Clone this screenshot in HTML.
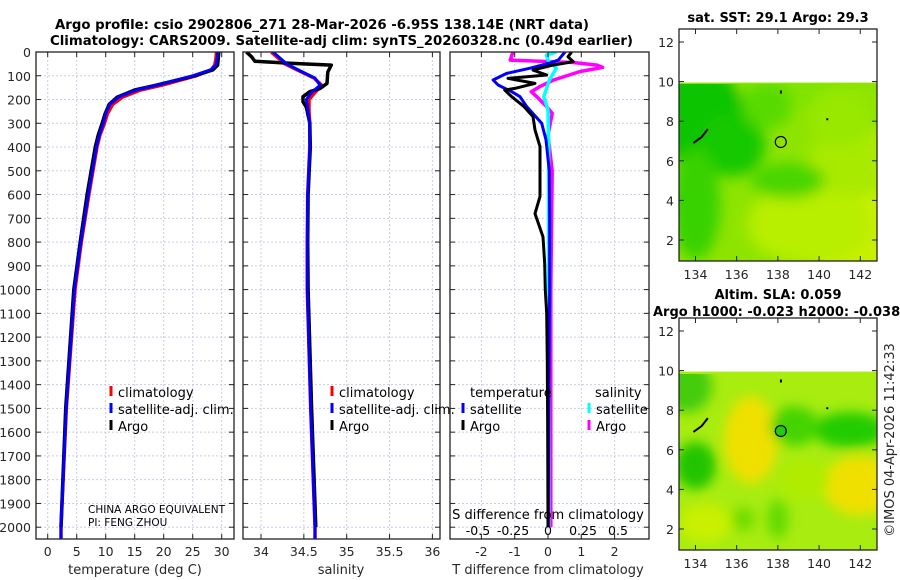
<!DOCTYPE html>
<html><head><meta charset="utf-8">
<style>
html,body{margin:0;padding:0;background:#fff;}
svg{display:block;font-family:"DejaVu Sans","Liberation Sans",sans-serif;}
</style></head>
<body>
<svg id="fig" width="900" height="580" viewBox="0 0 900 580" xmlns="http://www.w3.org/2000/svg">
<defs>
<filter id="blur1" x="-20%" y="-20%" width="140%" height="140%"><feGaussianBlur stdDeviation="7"/></filter>
<filter id="blur2" x="-20%" y="-20%" width="140%" height="140%"><feGaussianBlur stdDeviation="6"/></filter>
<clipPath id="clipP1"><rect x="36" y="52" width="198" height="487"/></clipPath>
<clipPath id="clipP2"><rect x="243" y="52" width="197" height="487"/></clipPath>
<clipPath id="clipP3"><rect x="450" y="52" width="199" height="487"/></clipPath>
<clipPath id="clipM1"><rect x="679" y="84" width="198" height="177"/></clipPath>
<clipPath id="clipM2"><rect x="679" y="374" width="198" height="177"/></clipPath>
</defs>
<text x="55" y="29" textLength="534" lengthAdjust="spacingAndGlyphs" font-size="13" font-weight="bold">Argo profile: csio 2902806_271 28-Mar-2026 -6.95S 138.14E (NRT data)</text>
<text x="50" y="45" textLength="583" lengthAdjust="spacingAndGlyphs" font-size="13" font-weight="bold">Climatology: CARS2009. Satellite-adj clim: synTS_20260328.nc (0.49d earlier)</text>
<g id="g1"></g>
<g id="g2"></g>
<g id="g3"></g>
<g id="m1"></g>
<g id="m2"></g>
<text transform="translate(894,440) rotate(-90)" text-anchor="middle" font-size="13" fill="#262626">©IMOS 04-Apr-2026 11:42:33</text>
</svg>
<script>
// ---- data ----
const depthTicks = [0,100,200,300,400,500,600,700,800,900,1000,1100,1200,1300,1400,1500,1600,1700,1800,1900,2000];
const tTicks = [0,5,10,15,20,25,30];
const sTicks = [34,34.5,35,35.5,36];
const sTickLabels = ["34","34.5","35","35.5","36"];
const dtTicks = [-2,-1,0,1,2];
const dsTicks = [-0.5,-0.25,0,0.25,0.5];
const dsTickLabels = ["-0.5","-0.25","0","0.25","0.5"];

const tDepth = [0,30,55,75,100,140,160,190,220,260,300,350,400,600,800,1000,1500,2000,2050];
const tSat   = [29.3,29.2,29.0,28.1,25.0,18.8,15.3,12.2,10.7,10.0,9.6,8.9,8.4,7.0,5.7,4.6,3.2,2.3,2.3];
const tClim  = [29.1,29.0,28.8,28.2,25.6,19.6,16.0,12.9,11.2,10.3,9.8,9.0,8.5,7.1,5.8,4.7,3.2,2.3,2.3];
const tArgo  = [29.5,29.4,29.3,28.5,25.3,18.6,15.0,12.0,10.6,9.9,9.4,8.7,8.2,6.8,5.6,4.5,3.1,2.3];
const tArgoDepth = [0,30,55,75,100,140,160,190,220,260,300,350,400,600,800,1000,1500,2000];

const sDepth = [0,50,80,110,140,170,200,250,300,400,600,800,1000,1500,2000,2050];
const sSat   = [34.14,34.30,34.46,34.63,34.69,34.59,34.53,34.55,34.57,34.57,34.545,34.54,34.54,34.58,34.63,34.63];
const sClim  = [34.12,34.28,34.45,34.62,34.71,34.63,34.56,34.56,34.57,34.57,34.545,34.54,34.54,34.58,34.63,34.63];
const sArgoDepth = [0,20,39,47,55,84,132,153,167,188,209,233,300,400,600,800,1000,1500,2000];
const sArgo      = [33.83,33.89,33.93,34.34,34.82,34.78,34.77,34.69,34.57,34.49,34.49,34.53,34.57,34.575,34.55,34.545,34.55,34.59,34.64];

const dtDepth = [0,34,46,68,90,118,139,167,188,230,300,370,500,700,1000,1500,2000];
const dtSat   = [0.51,0.31,0.06,-0.54,-1.24,-1.65,-1.5,-1.09,-0.84,-0.64,-0.19,-0.06,0.04,0.05,0.05,0.02,0.01];
const dtArgoDepth = [0,20,41,55,76,97,111,132,153,160,188,230,272,328,398,496,608,680,778,890,1000,1100,1300,1600,2000];
const dtArgo      = [0.71,0.6,0.76,0.15,-0.45,-0.04,-1.2,-0.39,-1.0,-1.3,-1.09,-0.72,-0.45,-0.39,-0.24,-0.24,-0.24,-0.39,-0.15,-0.1,-0.08,-0.04,-0.02,-0.01,0.0];
const dsArgoDepth = [0,34,44,55,65,82,118,146,167,188,230,258,350,500,1000,2000];
const dsArgo      = [-0.25,-0.27,0.18,0.35,0.39,0.23,0.04,-0.06,-0.12,-0.08,-0.01,0.03,0.0,0.03,0.02,0.02];
const dsSatDepth = [0,13,34,68,118,188,244,400,1000,2000];
const dsSat      = [0.06,-0.01,0.0,0.06,0.01,-0.03,0.0,0.005,0.005,0.005];

const latTicks = [2,4,6,8,10,12];
const lonTicks = [134,136,138,140,142];

// ---- helpers ----
const NS = "http://www.w3.org/2000/svg";
function mk(parent, tag, attrs){const e=document.createElementNS(NS,tag);for(const k in attrs)e.setAttribute(k,attrs[k]);parent.appendChild(e);return e;}
const Y0=52, YS=0.2376;
function yD(d){return Y0+d*YS;}
const xT = v => 47.7 + v*5.8;
const xS = v => 261 + (v-34)*85.7;
const xDT = v => 548 + v*33.3;
const xDS = v => 548 + v*140;

function grid(g, x0, x1, xs){
  depthTicks.forEach(d=>{const l=mk(g,'line',{x1:x0,x2:x1,y1:yD(d),y2:yD(d),stroke:'#c8cde8','stroke-width':1,'stroke-dasharray':'2,2'});
    
    });
  xs.forEach(x=>{const l=mk(g,'line',{x1:x,x2:x,y1:Y0,y2:539,stroke:'#c8cde8','stroke-width':1,'stroke-dasharray':'2,2'});
    
    });
}
function frame(g,x0,x1,y0,y1,nm){
  const r=mk(g,'rect',{x:x0,y:y0,width:x1-x0,height:y1-y0,fill:'none',stroke:'#222','stroke-width':1.3});
  
  
}
function yTickMarks(g,x0,x1){
  depthTicks.forEach(d=>{mk(g,'line',{x1:x0,x2:x0+5,y1:yD(d),y2:yD(d),stroke:'#222'});mk(g,'line',{x1:x1-5,x2:x1,y1:yD(d),y2:yD(d),stroke:'#222'});});
}
function xTickMarks(g,xs){xs.forEach(x=>{mk(g,'line',{x1:x,x2:x,y1:539,y2:534,stroke:'#222'});mk(g,'line',{x1:x,x2:x,y1:Y0,y2:Y0+5,stroke:'#222'});});}
function line(g,xs,ds,fx,color,w,nm,clip){
  const pts=xs.map((v,i)=>fx(v).toFixed(1)+','+yD(ds[i]).toFixed(1)).join(' ');
  const p=mk(g,'polyline',{points:pts,fill:'none',stroke:color,'stroke-width':w,'stroke-linejoin':'round','clip-path':'url(#'+clip+')'});
  
  
}
function legend(g,x,y,color,label,nm){
  mk(g,'rect',{x:x-1.5,y:y-11,width:3,height:10,fill:color});
  const t=mk(g,'text',{x:x+7,y:y,'font-size':13});t.textContent=label;
  
  
}
function txt(g,x,y,s,size,anchor,nm,extra){
  const t=mk(g,'text',Object.assign({x:x,y:y,'font-size':size,'text-anchor':anchor,fill:'#262626'},extra||{}));t.textContent=s;
  
  
  return t;
}

// ---- panel 1 ----
const g1=document.getElementById('g1');
grid(g1,36,234,tTicks.map(xT));
line(g1,tClim,tDepth,xT,'#ff0000',3.5,'temperature-climatology-line','clipP1');
line(g1,tArgo,tArgoDepth,xT,'#000000',3.5,'temperature-argo-line','clipP1');
line(g1,tSat,tDepth,xT,'#0000ff',3,'temperature-satellite-line','clipP1');
frame(g1,36,234,Y0,539,'temperature-axes-frame');
yTickMarks(g1,36,234);xTickMarks(g1,tTicks.map(xT));
depthTicks.forEach(d=>txt(g1,31,yD(d)+5,String(d),12.5,'end','depth-tick-label'));
tTicks.forEach(v=>txt(g1,xT(v),556,String(v),12.5,'middle','temperature-tick-label'));
txt(g1,135,574,'temperature (deg C)',13,'middle','temperature-axis-title');
legend(g1,111,397,'#ff0000','climatology','legend-climatology');
legend(g1,111,414,'#0000ff','satellite-adj. clim.','legend-satellite-adj');
legend(g1,111,431,'#000000','Argo','legend-argo');
txt(g1,88,513,'CHINA ARGO EQUIVALENT',10.5,'start','institution-label',{fill:'#000'});
txt(g1,88,526,'PI: FENG ZHOU',10.5,'start','pi-label',{fill:'#000'});

// ---- panel 2 ----
const g2=document.getElementById('g2');
grid(g2,243,440,sTicks.map(xS));
line(g2,sClim,sDepth,xS,'#ff0000',3.5,'salinity-climatology-line','clipP2');
line(g2,sArgo,sArgoDepth,xS,'#000000',3.5,'salinity-argo-line','clipP2');
line(g2,sSat,sDepth,xS,'#0000ff',3,'salinity-satellite-line','clipP2');
frame(g2,243,440,Y0,539,'salinity-axes-frame');
yTickMarks(g2,243,440);xTickMarks(g2,sTicks.map(xS));
sTicks.forEach((v,i)=>txt(g2,xS(v),556,sTickLabels[i],12.5,'middle','salinity-tick-label'));
txt(g2,341,574,'salinity',13,'middle','salinity-axis-title');
legend(g2,332,397,'#ff0000','climatology','legend-climatology-2');
legend(g2,332,414,'#0000ff','satellite-adj. clim.','legend-satellite-adj-2');
legend(g2,332,431,'#000000','Argo','legend-argo-2');

// ---- panel 3 ----
const g3=document.getElementById('g3');
grid(g3,450,649,dtTicks.map(xDT));
line(g3,dsArgo,dsArgoDepth,xDS,'#ff00ff',3.5,'salinity-diff-argo-line','clipP3');
line(g3,dsSat,dsSatDepth,xDS,'#00ffff',3.5,'salinity-diff-satellite-line','clipP3');
line(g3,dtSat,dtDepth,xDT,'#0000ff',3,'temperature-diff-satellite-line','clipP3');
line(g3,dtArgo,dtArgoDepth,xDT,'#000000',3,'temperature-diff-argo-line','clipP3');
frame(g3,450,649,Y0,539,'difference-axes-frame');
yTickMarks(g3,450,649);xTickMarks(g3,dtTicks.map(xDT));
dtTicks.forEach(v=>txt(g3,xDT(v),556,String(v),12.5,'middle','temperature-diff-tick-label'));
txt(g3,548,574,'T difference from climatology',13,'middle','temperature-diff-axis-title');
txt(g3,548,519,'S difference from climatology',13,'middle','salinity-diff-axis-title',{fill:'#000'});
dsTicks.forEach((v,i)=>txt(g3,xDS(v),535,dsTickLabels[i],12.5,'middle','salinity-diff-tick-label',{fill:'#000'}));
txt(g3,470,397,'temperature',13,'start','legend-temperature-heading',{fill:'#000'});
legend(g3,463,414,'#0000ff','satellite','legend-temp-satellite');
legend(g3,463,431,'#000000','Argo','legend-temp-argo');
txt(g3,595,397,'salinity',13,'start','legend-salinity-heading',{fill:'#000'});
legend(g3,589,414,'#00ffff','satellite','legend-sal-satellite');
legend(g3,589,431,'#ff00ff','Argo','legend-sal-argo');

// ---- maps ----
const lonX = lon => 679 + (lon-133.2)*20.6;
function map(g, top, blobs, base, clip, nm){
  const latY = lat => top + 13 + (12-lat)*19.8;
  const yTop = latY(9.95);
  mk(g,'rect',{x:679,y:yTop,width:198,height:(top+232)-yTop,fill:base});
  const bl=mk(g,'g',{'clip-path':'url(#'+clip+')'});
  const inner=mk(bl,'g',{filter:'url(#'+(nm==='sst'?'blur1':'blur2')+')'});
  blobs.forEach(b=>mk(inner,'ellipse',{cx:lonX(b[0]),cy:latY(b[1]),rx:b[2]*20.6,ry:b[3]*19.8,fill:b[4]}));
  mk(g,'polyline',{points:[[133.9,6.9],[134.3,7.2],[134.6,7.6]].map(p=>lonX(p[0])+','+latY(p[1])).join(' '),stroke:'#000','stroke-width':2,fill:'none'});
  mk(g,'rect',{x:lonX(138.1),y:latY(9.55),width:2,height:3,fill:'#000'});
  mk(g,'rect',{x:lonX(140.35),y:latY(8.15),width:2,height:2,fill:'#000'});
  const c=mk(g,'circle',{cx:lonX(138.14),cy:latY(6.95),r:5.5,fill:nm==='sla'?'#22cc11':'none',stroke:'#000','stroke-width':1.2});
  
  
  frame(g,679,877,top,top+232,nm+'-map-frame');
  latTicks.forEach(l=>{mk(g,'line',{x1:679,x2:684,y1:latY(l),y2:latY(l),stroke:'#222'});mk(g,'line',{x1:872,x2:877,y1:latY(l),y2:latY(l),stroke:'#222'});
    txt(g,674,latY(l)+5,String(l),12.5,'end',nm+'-lat-tick-label');});
  lonTicks.forEach(l=>{mk(g,'line',{x1:lonX(l),x2:lonX(l),y1:top+232,y2:top+227,stroke:'#222'});mk(g,'line',{x1:lonX(l),x2:lonX(l),y1:top,y2:top+5,stroke:'#222'});
    txt(g,lonX(l),top+250,String(l),12.5,'middle',nm+'-lon-tick-label');});
}
const sstBlobs=[
 [142.5,2.5,3.5,2.8,'#c8f000'],[139.5,2.8,3,2,'#b8ee00'],[142,6,2.5,1.8,'#a8ea00'],
 [134.2,8.2,2.2,2.6,'#10c400'],[135.8,6.8,1.6,1.6,'#18c800'],[134,3.8,1.2,2.8,'#38d200'],
 [138.5,5,1.8,0.9,'#48d600'],[139,9.6,2.8,1,'#80e400'],[137.5,8.8,1.2,1.2,'#58da00'],[141,8.2,1.5,1.5,'#98e800']
];
map(document.getElementById('m1'),29,sstBlobs,'#8ee400','clipM1','sst');
const slaBlobs=[
 [136.7,6.5,1.3,2.2,'#f0e000'],[142,4.2,1.8,1.5,'#f0e000'],[141.5,7,1.8,0.9,'#22cc00'],
 [138.8,7.2,1.2,1.0,'#44d400'],[134,5.2,1,1.2,'#20c400'],[133.6,9.2,1.2,1.3,'#44cc10'],
 [138,2.5,0.5,1,'#60da00'],[136.3,2.5,0.6,0.6,'#70dc00'],[139.3,4.5,1.2,1,'#b0ec00'],
 [134.5,2.3,1.3,1,'#c8f000']
];
map(document.getElementById('m2'),318,slaBlobs,'#a8ec10','clipM2','sla');
const m1=document.getElementById('m1'), m2=document.getElementById('m2');
txt(m1,778,22,'sat. SST: 29.1 Argo: 29.3',13,'middle','sst-map-title',{'font-weight':'bold',fill:'#000'});
txt(m2,778,299,'Altim. SLA: 0.059',13,'middle','sla-map-title',{'font-weight':'bold',fill:'#000'});
txt(m2,653,316,'Argo h1000: -0.023 h2000: -0.038',13,'start','steric-height-title',{'font-weight':'bold',fill:'#000'});
</script>
</body></html>
